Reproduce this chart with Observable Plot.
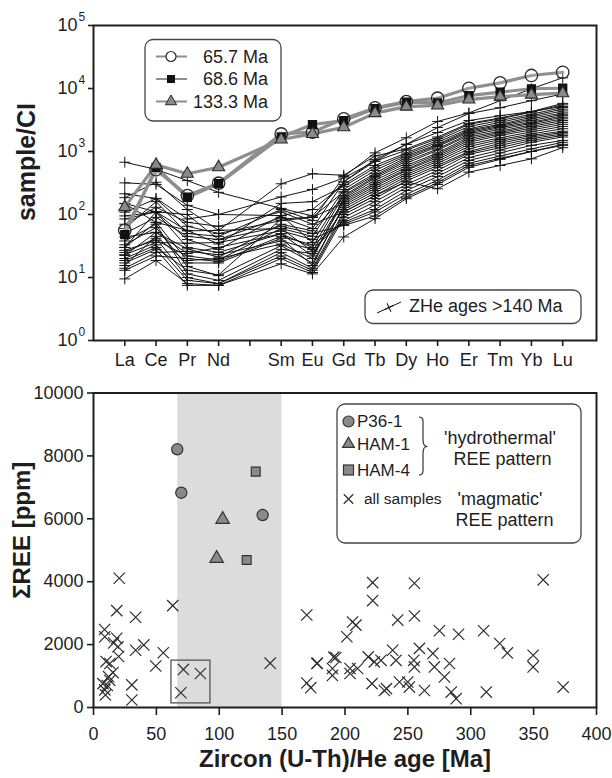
<!DOCTYPE html>
<html>
<head>
<meta charset="utf-8">
<script src="https://cdn.jsdelivr.net/npm/d3@7"></script>
<script src="https://cdn.jsdelivr.net/npm/@observablehq/plot@0.6"></script>
<style>
  body { margin: 0; background: #fff; }
  #chart { width: 612px; height: 778px; position: relative; }
  #chart svg { display: block; }
</style>
</head>
<body>
<div id="chart"></div>
<script>
const FONT = "'Liberation Sans', Arial, Helvetica, sans-serif";
const INK = "#1e1e1e";

// ---------- REE spider diagram (chondrite-normalised) ----------
// tick slots along the x axis; the blank slot is Pm (tick without label)
const slots = ["La", "Ce", "Pr", "Nd", "", "Sm", "Eu", "Gd", "Tb", "Dy", "Ho", "Er", "Tm", "Yb", "Lu"];
const elements = ["La", "Ce", "Pr", "Nd", "Sm", "Eu", "Gd", "Tb", "Dy", "Ho", "Er", "Tm", "Yb", "Lu"];
const decades = [0, 1, 2, 3, 4, 5];

// zircons with ZHe ages > 140 Ma, one row per grain (La ... Lu)
const zheProfiles = [
  [676, 520, 345, 225, 125, 95, 330, 750, 1300, 2000, 3100, 3700, 4300, 5200],
  [60, 160, 50, 45, 120, 80, 400, 950, 1650, 3000, 4100, 6400, 9900, 14800],
  [150, 110, 100, 40, 90, 60, 330, 700, 1300, 2400, 4000, 4950, 6400, 8200],
  [30, 110, 55, 56, 307, 443, 420, 850, 1100, 1700, 2800, 3400, 4300, 5800],
  [318, 300, 140, 100, 190, 250, 380, 700, 1050, 1600, 2700, 3300, 4200, 5500],
  [213, 180, 85, 100, 96, 120, 300, 600, 950, 1500, 2500, 3100, 3900, 5000],
  [148, 75, 56, 34, 150, 160, 280, 550, 900, 1400, 2300, 2900, 3700, 4700],
  [185, 325, 120, 56, 60, 45, 250, 500, 850, 1300, 2200, 2700, 3500, 4400],
  [109, 177, 65, 50, 80, 90, 230, 450, 800, 1250, 2100, 2600, 3300, 4100],
  [85, 110, 40, 28, 96, 36, 220, 420, 750, 1200, 2000, 2500, 3100, 3900],
  [95, 109, 30, 25, 49.5, 30, 200, 400, 700, 1100, 1900, 2400, 2900, 3700],
  [44, 52, 28.5, 21, 70, 55, 190, 380, 650, 1050, 1800, 2250, 2800, 3500],
  [30, 75, 18.6, 20, 34, 20, 180, 350, 600, 950, 1700, 2100, 2650, 3300],
  [27, 39, 22, 19, 60, 26, 170, 320, 560, 900, 1600, 2000, 2500, 3100],
  [22.4, 52, 24, 30, 49.5, 22, 160, 300, 520, 850, 1500, 1900, 2350, 2900],
  [18.6, 30, 13, 11, 85, 91, 150, 280, 500, 800, 1400, 1800, 2200, 2700],
  [15.5, 45, 17, 17, 42, 15.5, 140, 260, 460, 750, 1300, 1650, 2050, 2500],
  [9.5, 18.6, 8, 7.5, 16.5, 11.4, 44, 86, 178, 300, 560, 750, 1000, 1250],
  [33, 62, 15, 10.7, 32, 17, 130, 240, 430, 700, 1200, 1550, 1900, 2300],
  [38, 70, 11.4, 9, 28, 24, 120, 220, 400, 650, 1100, 1450, 1800, 2100],
  [25, 42, 10, 8, 25, 14, 110, 200, 370, 600, 1000, 1350, 1700, 2000],
  [20, 33, 9, 8, 22, 13, 100, 180, 340, 560, 950, 1250, 1600, 1900],
  [17, 28, 7.5, 7.5, 20, 12, 90, 160, 300, 500, 900, 1150, 1500, 1800],
  [14, 25, 26, 23, 38, 28, 80, 140, 270, 450, 800, 1050, 1400, 1700],
  [13, 22, 20, 18, 45, 33, 75, 120, 240, 400, 720, 950, 1250, 1500],
  [23, 36, 35, 36, 55, 40, 70, 110, 210, 350, 650, 850, 1100, 1400],
  [50, 90, 45, 40, 65, 50, 67, 95, 190, 320, 600, 780, 1000, 1300],
  [70, 130, 75, 65, 110, 70, 110, 200, 330, 256, 470, 600, 765, 1150]
];

// hydrothermal-type grains
const ree657 = [56, 513, 200, 314, 1900, 2030, 3300, 4920, 6200, 7020, 10100, 12300, 16100, 18100];
const ree686 = [48, 560, 188, 308, 1700, 2680, 3100, 4770, 6060, 5900, 7720, 8770, 9900, 10100];
const ree1333 = [131, 613, 443, 563, 1550, 1900, 2430, 4060, 5150, 5380, 6680, 7430, 7980, 8420];

// ---------- ΣREE vs zircon (U-Th)/He age ----------
const magmaticAge = [20.5, 18.5, 33.5, 63, 8.8, 9, 18.5, 16, 19.5, 40, 33.5, 55.5, 49.5, 20, 10, 13, 15.5, 12, 13, 7.5,
  9, 9.5, 11, 30.5, 30.5, 71.5, 85, 69.5, 140.5,
  169.6, 169.6, 172.8, 177.6, 178, 190, 190, 192.7, 191, 201.5, 206, 208.7, 204, 204, 210, 218.5, 222, 222, 221.5, 223.3,
  228.6, 231.3, 233, 237.9, 240.6, 241.9, 243.3, 249.9, 251.2, 255.2, 255.2, 254.7, 255.2, 259.2, 263.2, 269.9, 271.1, 275.1, 279.1, 283.1,
  284.5, 288.4, 290.3, 310.2, 312.4, 323, 329.1, 349.6, 349.6, 357.6, 373.5];
const magmaticSum = [4110, 3080, 2870, 3240, 2480, 2250, 2200, 2050, 1930, 1990, 1820, 1740, 1320, 1620, 1460, 1400, 1110, 980, 860, 760,
  560, 400, 700, 720, 240, 1210, 1080, 470, 1410,
  2940, 780, 630, 1400, 1410, 1240, 1020, 1590, 1600, 2250, 2720, 2620, 1240, 1080, 1240, 1610, 3970, 3400, 760, 1450,
  1500, 540, 600, 1820, 1500, 2780, 810, 810, 650, 3950, 2910, 1500, 1290, 1880, 540, 1720, 1290, 2440, 970, 1400,
  490, 280, 2330, 2440, 490, 2035, 1735, 1660, 1290, 4060, 650];
const p36Age = [66.6, 69.8, 134.5];
const p36Sum = [8210, 6830, 6120];
const ham1Age = [102.7, 97.9];
const ham1Sum = [5980, 4740];
const ham4Age = [129, 121.8];
const ham4Sum = [7500, 4690];
const hydroWindow = [67, 150];          // shaded age window, Ma
const boxAge = [62, 93];                // outlined group
const boxSum = [130, 1490];
const ageTicks = [0, 50, 100, 150, 200, 250, 300, 350, 400];
const sumTicks = [0, 2000, 4000, 6000, 8000, 10000];

// ---------- tables ----------
const xOf = (el) => slots.indexOf(el);
const zheRows = zheProfiles.flatMap((p, k) => p.map((v, j) => ({id: k, x: xOf(elements[j]), v})));
const profile = (arr) => arr.map((v, j) => ({x: xOf(elements[j]), v}));
const rows657 = profile(ree657), rows686 = profile(ree686), rows1333 = profile(ree1333);
const pairs = (a, b) => a.map((x, i) => ({age: x, sum: b[i]}));

const GREY_LINE = "#8e8e8e";
const GREY_FILL = "#8a8a8a";

const topPlot = Plot.plot({
  width: 612, height: 375,
  marginLeft: 93, marginRight: 16, marginTop: 25, marginBottom: 35,
  style: {fontFamily: FONT, fontSize: "18px", color: INK, background: "transparent", overflow: "visible"},
  x: {type: "linear", domain: [-1, 15.08]},
  y: {type: "log", domain: [1, 1e5]},
  marks: [
    Plot.line(zheRows, {x: "x", y: "v", z: "id", stroke: "#141414", strokeWidth: 1}),
    Plot.dot(zheRows, {x: "x", y: "v", symbol: "plus", r: 3.6, stroke: "#141414", strokeWidth: 1}),
    Plot.line(rows1333, {x: "x", y: "v", stroke: GREY_LINE, strokeWidth: 3.2}),
    Plot.line(rows686, {x: "x", y: "v", stroke: GREY_LINE, strokeWidth: 3.2}),
    Plot.line(rows657, {x: "x", y: "v", stroke: GREY_LINE, strokeWidth: 3.2}),
    Plot.dot(rows657, {x: "x", y: "v", symbol: "circle", r: 6.2, fill: "#fff", fillOpacity: 0.15, stroke: "#2a2a2a", strokeWidth: 1.3}),
    Plot.dot(rows686, {x: "x", y: "v", symbol: "square", r: 4.4, fill: "#111", stroke: "#111"}),
    Plot.dot(rows1333, {x: "x", y: "v", symbol: "triangle", r: 4.5, fill: GREY_FILL, stroke: "#2a2a2a", strokeWidth: 1.1}),
    Plot.axisX({ticks: slots.map((_, i) => i), tickFormat: (i) => slots[i], tickSize: 6, tickPadding: 7,
      fontSize: 18, strokeWidth: 1.6, label: null}),
    Plot.axisY({ticks: decades.map((d) => 10 ** d), tickFormat: () => "10", tickSize: 5, tickPadding: 11,
      fontSize: 18, strokeWidth: 1.6, label: null}),
    Plot.text(decades, {y: (d) => 10 ** d, text: (d) => String(d), frameAnchor: "left",
      dx: -15, dy: -8, textAnchor: "start", fontSize: 12}),
    Plot.frame({stroke: INK, strokeWidth: 2}),
    Plot.text(["sample/CI"], {frameAnchor: "left", textAnchor: "middle", dx: -67, dy: -21, rotate: -90,
      fontSize: 25, fontWeight: "bold"})
  ]
});

const bottomPlot = Plot.plot({
  width: 612, height: 403,
  marginLeft: 93, marginRight: 16, marginTop: 17.5, marginBottom: 71,
  style: {fontFamily: FONT, fontSize: "18px", color: INK, background: "transparent", overflow: "visible"},
  x: {domain: [0, 400]},
  y: {domain: [0, 10000]},
  marks: [
    Plot.rect([hydroWindow], {x1: (d) => d[0], x2: (d) => d[1], y1: () => 0, y2: () => 10000, fill: "#dcdcdc"}),
    Plot.rect([boxAge], {x1: (d) => d[0], x2: (d) => d[1], y1: () => boxSum[0], y2: () => boxSum[1],
      fill: "none", stroke: "#555", strokeWidth: 1.3}),
    Plot.dot(pairs(magmaticAge, magmaticSum), {x: "age", y: "sum", symbol: "times", r: 5.2, stroke: "#2e2e2e", strokeWidth: 1.2}),
    Plot.dot(pairs(p36Age, p36Sum), {x: "age", y: "sum", symbol: "circle", r: 5.6, fill: GREY_FILL, stroke: "#333", strokeWidth: 1.2}),
    Plot.dot(pairs(ham1Age, ham1Sum), {x: "age", y: "sum", symbol: "triangle", r: 5, fill: GREY_FILL, stroke: "#333", strokeWidth: 1.2}),
    Plot.dot(pairs(ham4Age, ham4Sum), {x: "age", y: "sum", symbol: "square", r: 5, fill: GREY_FILL, stroke: "#333", strokeWidth: 1.2}),
    Plot.axisX({ticks: ageTicks, tickSize: 8, tickPadding: 12, fontSize: 18, strokeWidth: 1.6, label: null, tickFormat: (d) => String(d)}),
    Plot.axisY({ticks: sumTicks, tickSize: 6, tickPadding: 4, fontSize: 18, strokeWidth: 1.6, label: null, tickFormat: (d) => String(d)}),
    Plot.frame({stroke: INK, strokeWidth: 2}),
    Plot.text(["Zircon (U-Th)/He age [Ma]"], {frameAnchor: "bottom", textAnchor: "middle", dy: 59, fontSize: 24, fontWeight: "bold"}),
    Plot.text(["ΣREE [ppm]"], {frameAnchor: "left", textAnchor: "middle", dx: -71, dy: -20, rotate: -90,
      fontSize: 24, fontWeight: "bold"})
  ]
});

const chart = document.getElementById("chart");
chart.appendChild(topPlot);
chart.appendChild(bottomPlot);

// ---------- legends ----------
function legendBox(g, x, y, w, h) {
  g.append("rect").attr("x", x).attr("y", y).attr("width", w).attr("height", h)
    .attr("rx", 8).attr("fill", "#fff").attr("stroke", "#444").attr("stroke-width", 1.3);
}
function label(g, x, y, text, size, anchor = "start") {
  g.append("text").attr("x", x).attr("y", y).attr("dy", "0.35em").attr("text-anchor", anchor)
    .attr("font-family", FONT).attr("font-size", size).attr("fill", INK).text(text);
}
const sym = (type, size) => d3.symbol(type, size)();

// spider-diagram legend (ages of the hydrothermal grains)
{
  const g = d3.select(topPlot).append("g");
  legendBox(g, 145, 39.5, 136, 81.5);
  const entries = [
    {y: 56.5, text: "65.7 Ma", draw: (s) => s.append("circle").attr("r", 5).attr("fill", "#fff").attr("stroke", "#2a2a2a").attr("stroke-width", 1.2)},
    {y: 79, text: "68.6 Ma", draw: (s) => s.append("rect").attr("x", -4).attr("y", -4).attr("width", 8).attr("height", 8).attr("fill", "#111")},
    {y: 101.5, text: "133.3 Ma", draw: (s) => s.append("path").attr("d", sym(d3.symbolTriangle, 55)).attr("fill", GREY_FILL).attr("stroke", "#2a2a2a").attr("stroke-width", 1)}
  ];
  for (const e of entries) {
    g.append("line").attr("x1", 156).attr("x2", 187).attr("y1", e.y).attr("y2", e.y)
      .attr("stroke", GREY_LINE).attr("stroke-width", 2);
    e.draw(g.append("g").attr("transform", `translate(171,${e.y})`));
    label(g, 268, e.y, e.text, 18, "end");
  }

  const h = d3.select(topPlot).append("g");
  legendBox(h, 365, 290, 216, 33.5);
  h.append("line").attr("x1", 377).attr("y1", 313).attr("x2", 401).attr("y2", 302)
    .attr("stroke", "#141414").attr("stroke-width", 1);
  h.append("path").attr("d", sym(d3.symbolPlus, 30)).attr("transform", "translate(389,307.5) rotate(-25)")
    .attr("fill", "none").attr("stroke", "#141414").attr("stroke-width", 1);
  label(h, 409, 306, "ZHe ages >140 Ma", 18);
}

// scatter legend
{
  const g = d3.select(bottomPlot).append("g");
  const oy = -375; // page y -> svg y
  legendBox(g, 337, 404 + oy, 244, 139);
  g.append("circle").attr("cx", 348.5).attr("cy", 421.5 + oy).attr("r", 5.5)
    .attr("fill", GREY_FILL).attr("stroke", "#333").attr("stroke-width", 1.2);
  g.append("path").attr("d", sym(d3.symbolTriangle, 60)).attr("transform", `translate(348.5,${444 + oy})`)
    .attr("fill", GREY_FILL).attr("stroke", "#333").attr("stroke-width", 1.2);
  g.append("rect").attr("x", 343.5).attr("y", 465 + oy).attr("width", 10).attr("height", 10)
    .attr("fill", GREY_FILL).attr("stroke", "#333").attr("stroke-width", 1.2);
  g.append("path").attr("d", sym(d3.symbolTimes, 60)).attr("transform", `translate(348.5,${499 + oy})`)
    .attr("fill", "none").attr("stroke", "#2e2e2e").attr("stroke-width", 1.2);
  label(g, 357, 421.5 + oy, "P36-1", 17);
  label(g, 357, 444 + oy, "HAM-1", 17);
  label(g, 357, 470 + oy, "HAM-4", 17);
  label(g, 364, 499 + oy, "all samples", 15.5);
  // brace grouping the three hydrothermal samples
  const t = 417 + oy, m = 446.5 + oy, b = 475 + oy;
  g.append("path")
    .attr("d", `M419,${t} C424,${t} 423,${t + 4} 423,${t + 10} L423,${m - 8} C423,${m - 2} 424,${m} 427.5,${m}` +
      ` C424,${m} 423,${m + 2} 423,${m + 8} L423,${b - 10} C423,${b - 4} 424,${b} 419,${b}`)
    .attr("fill", "none").attr("stroke", "#333").attr("stroke-width", 1.2);
  label(g, 500, 437.5 + oy, "'hydrothermal'", 18, "middle");
  label(g, 502.5, 458.5 + oy, "REE pattern", 18, "middle");
  label(g, 500, 499 + oy, "'magmatic'", 18, "middle");
  label(g, 504.5, 520 + oy, "REE pattern", 18, "middle");
}
</script>
</body>
</html>
